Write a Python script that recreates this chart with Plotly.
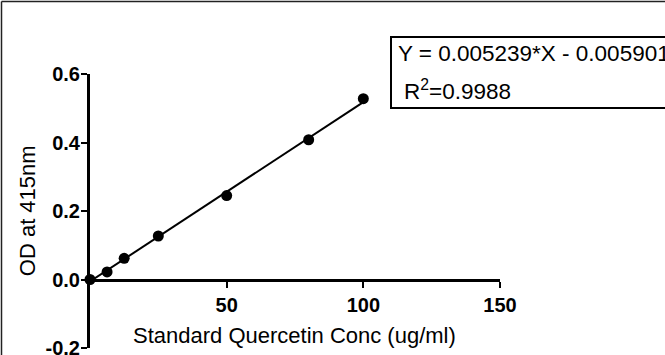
import plotly.graph_objects as go
import numpy as np

# ---- data ----
conc = [0, 6.25, 12.5, 25, 50, 80, 100]
od = [0.0, 0.022, 0.062, 0.127, 0.245, 0.408, 0.528]
slope = 0.005239
intercept = -0.005901
r_squared = "0.9988"
fit_x = [0, 100]
x_ticks = [50, 100, 150]
y_ticks = [-0.2, 0.0, 0.2, 0.4, 0.6]
y_ticktext = ["-0.2", "0.0", "0.2", "0.4", "0.6"]

fit_y = [slope * v + intercept for v in fit_x]

W, H = 665, 355
# target plot area in window pixels: x 90..500, y 74..347.6
ML = 90
MT = 74
PW = 410
PH = 273.6
MR = W - ML - PW
MB = H - MT - PH


def px(x):
    return (x - ML) / PW


def py(y):
    return (MT + PH - y) / PH


FONT = "Arial, Liberation Sans, Helvetica, sans-serif"

fig = go.Figure()
fig.add_trace(go.Scatter(x=fit_x, y=fit_y, mode="lines",
                         line=dict(color="black", width=2), hoverinfo="skip",
                         showlegend=False, cliponaxis=False))
fig.add_trace(go.Scatter(x=conc, y=od, mode="markers",
                         marker=dict(color="black", size=11, symbol="circle"),
                         showlegend=False, cliponaxis=False))

axis_common = dict(showline=True, linewidth=3, linecolor="black",
                   ticks="outside", ticklen=6, tickwidth=2, tickcolor="black",
                   showgrid=False, zeroline=False, automargin=False,
                   ticklabeloverflow="allow",
                   tickfont=dict(family=FONT, size=20, color="black", weight="bold"))

fig.update_xaxes(range=[0, 150], tickvals=x_ticks, anchor="free", position=0.25,
                 **axis_common)
fig.update_yaxes(range=[-0.2, 0.6], tickvals=y_ticks, ticktext=y_ticktext,
                 ticklabelstandoff=-3, **axis_common)

annotations = [
    dict(text="Standard Quercetin Conc (ug/ml)", x=px(294), y=py(335),
         xanchor="center", yanchor="middle", size=22),
    dict(text="OD at 415nm", x=px(27), y=py(211), textangle=-90,
         xanchor="center", yanchor="middle", size=22),
    dict(text=f"Y = {slope:.6f}*X - {abs(intercept):.6f}", x=px(396), y=py(54),
         xanchor="left", yanchor="middle", size=22.5),
    dict(text=f"R<sup>2</sup>={r_squared}", x=px(402), y=py(90),
         xanchor="left", yanchor="middle", size=22.5),
]
for a in annotations:
    size = a.pop("size")
    a.update(xref="paper", yref="paper", showarrow=False,
             font=dict(family=FONT, size=size, color="black"))

shapes = [
    # outer frame (left and top edges)
    dict(type="line", xref="paper", yref="paper", x0=px(1.5), x1=px(1.5),
         y0=py(1.5), y1=py(370), line=dict(color="#222", width=1.5)),
    dict(type="line", xref="paper", yref="paper", x0=px(1.5), x1=px(700),
         y0=py(1.5), y1=py(1.5), line=dict(color="#222", width=1.5)),
    # equation box
    dict(type="rect", xref="paper", yref="paper", x0=px(391), x1=px(720),
         y0=py(108), y1=py(37), line=dict(color="black", width=2)),
]

fig.update_layout(width=W, height=H, margin=dict(l=ML, r=MR, t=MT, b=MB),
                  plot_bgcolor="white", paper_bgcolor="white",
                  annotations=annotations, shapes=shapes,
                  font=dict(family=FONT, color="black"))

fig.write_html("out.html", config={"displayModeBar": False},
               post_script="document.body.style.margin='0px';"
                           "document.body.style.overflow='hidden';")
